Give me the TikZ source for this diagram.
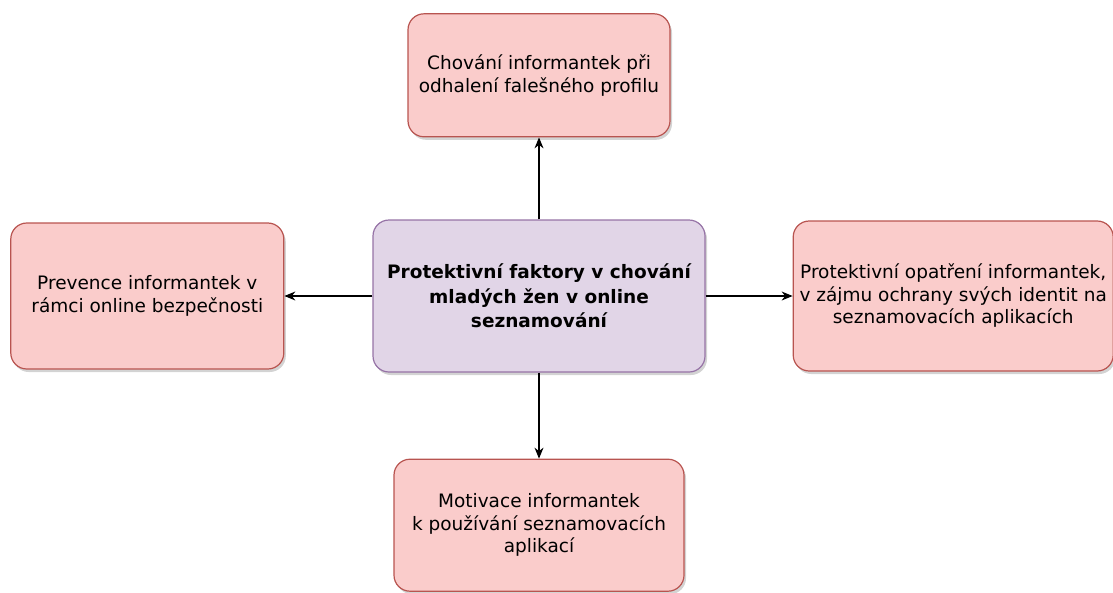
\documentclass[tikz,border=0pt]{standalone}
\usepackage{fontspec}
\setmainfont{DejaVu Sans}
\usepackage{xcolor}
\usepackage{tikz}
\usetikzlibrary{shapes,arrows,arrows.meta,shadows}
\usetikzlibrary{positioning}

\definecolor{redfill}{HTML}{FACCCB}
\definecolor{reddraw}{HTML}{B85450}
\definecolor{purplefill}{HTML}{E1D5E7}
\definecolor{purpledraw}{HTML}{9673A6}

\begin{document}
\begin{tikzpicture}[x=1pt, y=-1pt, auto,
			block/.style={
					rectangle,
					draw=reddraw,
					fill=redfill,
					line width=1.2pt,
					rounded corners=16pt,
					align=center,
					inner sep=0pt,
					font=\fontsize{18.5}{22.5}\selectfont,
					drop shadow={shadow xshift=2pt, shadow yshift=-3pt, opacity=0.35}
				},
			core/.style={
					block,
					draw=purpledraw,
					fill=purplefill,
					font=\fontsize{18.5}{24.5}\selectfont\bfseries
				},
			line/.style={draw, line width=1.2pt, -{Stealth[length=11pt, width=9pt]}}
		]
		\useasboundingbox (0,0) rectangle (1113,592);
		% Place nodes
		\node [core, minimum width=332pt, minimum height=152pt] (core) at (539,296) {Protektivní faktory v chování\\mladých žen v online\\seznamování};
		\node [block, minimum width=262pt, minimum height=123pt, above=82pt of core] (reveal) {Chování informantek při\\odhalení falešného profilu};
		\node [block, minimum width=273pt, minimum height=146pt, left=88pt of core] (prevent) {Prevence informantek v\\rámci online bezpečnosti};
		\node [block, minimum width=320pt, minimum height=150pt, right=87pt of core] (protect) {Protektivní opatření informantek,\\v zájmu ochrany svých identit na\\seznamovacích aplikacích};
		\node [block, minimum width=290pt, minimum height=132pt, below=86pt of core] (motive) {Motivace informantek\\k používání seznamovacích\\aplikací};
		% Draw edges
		\path [line] (core) -- (reveal);
		\path [line] (core) -- (prevent);
		\path [line] (core) -- (protect);
		\path [line] (core) -- (motive);
	\end{tikzpicture}
\end{document}
